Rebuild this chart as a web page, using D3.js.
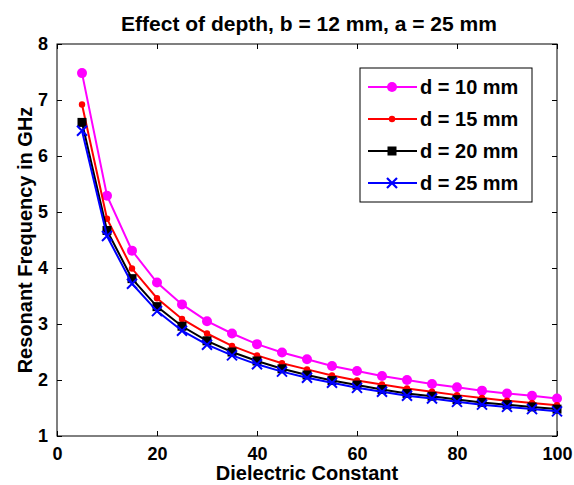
<!DOCTYPE html>
<html>
<head>
<meta charset="utf-8">
<style>
    body { margin: 0; background: #fff; }
    svg text { font-family: Arial, "Liberation Sans", sans-serif; fill: #000; }
    .series path { fill: none; stroke-width: 2px; }
</style>
</head>
<body>
<svg width="574" height="485"></svg>
<script src="https://cdn.jsdelivr.net/npm/d3@7"></script>
<script>

    // dielectric constant values (x)
    var eps = [5, 10, 15, 20, 25, 30, 35, 40, 45, 50, 55, 60, 65, 70, 75, 80, 85, 90, 95, 100];

    // resonant frequency (GHz) for each depth
    var d10 = [7.48, 5.29, 4.31, 3.74, 3.35, 3.05, 2.83, 2.64, 2.49, 2.37, 2.25, 2.16, 2.07, 2.00, 1.93, 1.87, 1.81, 1.76, 1.72, 1.67];
    var d15 = [6.92, 4.88, 3.99, 3.46, 3.09, 2.83, 2.61, 2.44, 2.30, 2.19, 2.08, 1.99, 1.92, 1.85, 1.79, 1.73, 1.68, 1.63, 1.59, 1.55];
    var d20 = [6.60, 4.67, 3.81, 3.31, 2.96, 2.70, 2.50, 2.34, 2.20, 2.09, 1.99, 1.91, 1.83, 1.76, 1.71, 1.65, 1.60, 1.56, 1.52, 1.48];
    var d25 = [6.45, 4.57, 3.72, 3.23, 2.88, 2.63, 2.44, 2.28, 2.15, 2.04, 1.95, 1.86, 1.79, 1.72, 1.67, 1.61, 1.56, 1.52, 1.48, 1.44];

    var seriesNames = ["d = 10 mm", "d = 15 mm", "d = 20 mm", "d = 25 mm"];
    var seriesColors = ["#ff00ff", "#ff0000", "#000000", "#0000ff"];
    var seriesMarkers = ["circle", "dot", "square", "cross"];
    var xTicks = [0, 20, 40, 60, 80, 100];
    var yTicks = [1, 2, 3, 4, 5, 6, 7, 8];

    var svg = d3.select("svg"),
        margin = {left: 57, right: 17, top: 44, bottom: 49},
        width = +svg.attr("width"),
        height = +svg.attr("height");

    var x = d3.scaleLinear().domain([0, 100]).range([margin.left, width - margin.right]);
    var y = d3.scaleLinear().domain([1, 8]).range([height - margin.bottom, margin.top]);

    var allSeries = [d10, d15, d20, d25].map(function (vals, i) {
        return {
            name: seriesNames[i],
            color: seriesColors[i],
            marker: seriesMarkers[i],
            points: vals.map(function (v, j) { return {x: eps[j], y: v}; })
        };
    });

    // frame
    svg.append("rect")
        .attr("x", x(0)).attr("y", y(8))
        .attr("width", x(100) - x(0)).attr("height", y(1) - y(8))
        .attr("fill", "#fff").attr("stroke", "#000").attr("stroke-width", 1);

    // axes with inward ticks
    var tickFont = function (g) {
        g.select(".domain").remove();
        g.selectAll("text")
            .attr("font-size", "18px").attr("font-weight", "bold")
            .style("font-family", "Arial, 'Liberation Sans', sans-serif");
        g.selectAll("line").attr("stroke", "#000");
    };

    svg.append("g")
        .attr("transform", "translate(0," + y(1) + ")")
        .call(d3.axisBottom(x).tickValues(xTicks).tickSizeInner(-5).tickSizeOuter(0).tickPadding(11).tickFormat(d3.format("d")))
        .call(tickFont);

    svg.append("g")
        .attr("transform", "translate(0," + y(8) + ")")
        .call(d3.axisTop(x).tickValues(xTicks).tickSizeInner(-5).tickSizeOuter(0).tickFormat(""))
        .call(tickFont);

    svg.append("g")
        .attr("transform", "translate(" + x(0) + ",0)")
        .call(d3.axisLeft(y).tickValues(yTicks).tickSizeInner(-5).tickSizeOuter(0).tickPadding(9).tickFormat(d3.format("d")))
        .call(tickFont);

    svg.append("g")
        .attr("transform", "translate(" + x(100) + ",0)")
        .call(d3.axisRight(y).tickValues(yTicks).tickSizeInner(-5).tickSizeOuter(0).tickFormat(""))
        .call(tickFont);

    var line = d3.line().x(function (d) { return x(d.x); }).y(function (d) { return y(d.y); });

    function drawMarker(sel, kind, color) {
        if (kind === "circle") {
            sel.append("circle").attr("r", 5).attr("fill", color);
        } else if (kind === "dot") {
            sel.append("circle").attr("r", 3.2).attr("fill", color);
        } else if (kind === "square") {
            sel.append("rect").attr("x", -4.5).attr("y", -4.5).attr("width", 9).attr("height", 9).attr("fill", color);
        } else {
            sel.append("path").attr("d", "M-5,-5L5,5M-5,5L5,-5")
                .attr("stroke", color).attr("stroke-width", 2.2).attr("fill", "none");
        }
    }

    var series = svg.selectAll(".series").data(allSeries).enter()
        .append("g").attr("class", "series");

    series.append("path")
        .attr("d", function (d) { return line(d.points); })
        .attr("stroke", function (d) { return d.color; });

    series.each(function (s) {
        d3.select(this).selectAll(".pt").data(s.points).enter()
            .append("g").attr("class", "pt")
            .attr("transform", function (d) { return "translate(" + x(d.x) + "," + y(d.y) + ")"; })
            .each(function () { drawMarker(d3.select(this), s.marker, s.color); });
    });

    // legend
    var legend = svg.append("g").attr("transform", "translate(360,68)");
    legend.append("rect")
        .attr("width", 172).attr("height", 134)
        .attr("fill", "#fff").attr("stroke", "#000").attr("stroke-width", 1);

    var item = legend.selectAll(".item").data(allSeries).enter()
        .append("g").attr("class", "item")
        .attr("transform", function (d, i) { return "translate(0," + (19 + i * 32) + ")"; });

    item.append("line")
        .attr("x1", 8).attr("x2", 57)
        .attr("stroke", function (d) { return d.color; }).attr("stroke-width", 2);

    item.each(function (s) {
        drawMarker(d3.select(this).append("g").attr("transform", "translate(32,0)"), s.marker, s.color);
    });

    item.append("text")
        .attr("x", 60).attr("dy", "0.36em")
        .attr("font-size", "20px").attr("font-weight", "bold")
        .text(function (d) { return d.name; });

    // titles
    svg.append("text")
        .attr("x", 309).attr("y", 31)
        .attr("text-anchor", "middle")
        .attr("font-size", "21px").attr("font-weight", "bold")
        .text("Effect of depth, b = 12 mm, a = 25 mm");

    svg.append("text")
        .attr("x", (x(0) + x(100)) / 2).attr("y", 480)
        .attr("text-anchor", "middle")
        .attr("font-size", "20px").attr("font-weight", "bold")
        .text("Dielectric Constant");

    svg.append("text")
        .attr("transform", "translate(32," + (y(1) + y(8)) / 2 + ") rotate(-90)")
        .attr("text-anchor", "middle")
        .attr("font-size", "20px").attr("font-weight", "bold")
        .text("Resonant Frequency in GHz");

</script>
</body>
</html>
